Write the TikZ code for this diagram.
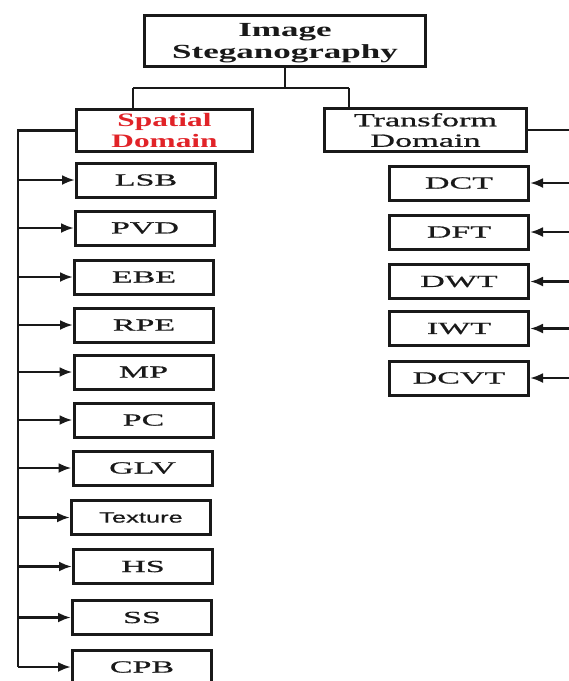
\documentclass[tikz,border=0pt]{standalone}
\usepackage{fontspec}
\usetikzlibrary{arrows.meta}
\newfontfamily\titlefont[FakeStretch=1.75]{Liberation Serif}
\newfontfamily\domfont[FakeStretch=1.85,FakeBold=0.8]{Liberation Serif}
\newfontfamily\spfont[FakeStretch=1.65]{Liberation Serif}
\newfontfamily\labfont[FakeStretch=2.0,FakeBold=0.8]{Liberation Serif}
\newfontfamily\sanslab[FakeStretch=1.7,FakeBold=0.6]{Liberation Sans}
\definecolor{spred}{RGB}{225,35,40}
\definecolor{ink}{RGB}{25,25,25}
\tikzset{
  box/.style={draw=ink, line width=3pt, inner sep=0pt, align=center, text=ink},
  twoline/.style={box, text depth=0pt},
  leafbox/.style={box, minimum width=139pt, minimum height=34pt, font=\labfont\fontsize{17}{20}\selectfont},
  conn/.style={draw=ink, line width=2.6pt},
  arr/.style={conn, -{Latex[length=13pt,width=10pt]}}
}
\begin{document}
\begin{tikzpicture}[x=1pt,y=-1pt]
\useasboundingbox (0,0) rectangle (569,681);
\fill[white] (0,0) rectangle (569,681);
% top
\node[twoline, minimum width=281pt, minimum height=51pt, font=\titlefont\bfseries\fontsize{20}{22}\selectfont] (top) at (285,41) {Image\\Steganography};
\node[twoline, minimum width=176pt, minimum height=42pt, text=spred, font=\spfont\bfseries\fontsize{19}{21.5}\selectfont] (sp) at (164.5,130.5) {Spatial\\Domain};
\node[twoline, minimum width=202pt, minimum height=43pt, font=\domfont\fontsize{18.5}{20.5}\selectfont] (tr) at (425.5,130) {Transform\\Domain};
% left leaves
\node[leafbox] (lsb) at (146,180) {LSB};
\node[leafbox] (pvd) at (145,228) {PVD};
\node[leafbox] (ebe) at (144,277) {EBE};
\node[leafbox] (rpe) at (144,325) {RPE};
\node[leafbox] (mp) at (143.5,372) {MP};
\node[leafbox] (pc) at (143.5,420) {PC};
\node[leafbox] (glv) at (142.5,468) {GLV};
\node[leafbox, font=\sanslab\fontsize{15}{18}\selectfont] (tex) at (141,517.5) {Texture};
\node[leafbox] (hs) at (143,566.5) {HS};
\node[leafbox] (ss) at (142,617.5) {SS};
\node[leafbox] (cpb) at (142,667) {CPB};
% right leaves
\node[leafbox] (dct) at (459,183) {DCT};
\node[leafbox] (dft) at (459,232) {DFT};
\node[leafbox] (dwt) at (459,281.5) {DWT};
\node[leafbox] (iwt) at (459,328.5) {IWT};
\node[leafbox] (dcvt) at (459,378) {DCVT};
% tree connectors
\coordinate (j) at (285,88);
\coordinate (jl) at (133,88);
\coordinate (jr) at (349,88);
\draw[conn] (top.south) -- (j);
\draw[conn] (jl) -- (jr);
\draw[conn] (jl) -- (jl |- sp.north);
\draw[conn] (jr) -- (jr |- tr.north);
% left bus
\coordinate (bt) at (18,130.5);
\coordinate (bb) at (18,667);
\draw[conn] (sp.west) -- (bt) -- (bb);
\foreach \n in {lsb,pvd,ebe,rpe,mp,pc,glv,tex,hs,ss,cpb}
  \draw[arr] (bt |- \n.west) -- (\n.west);
% right bus
\coordinate (rt) at (572,130);
\coordinate (rb) at (572,378);
\draw[conn] (tr.east) -- (rt) -- (rb);
\foreach \n in {dct,dft,dwt,iwt,dcvt}
  \draw[arr] (rt |- \n.east) -- (\n.east);
\end{tikzpicture}
\end{document}
